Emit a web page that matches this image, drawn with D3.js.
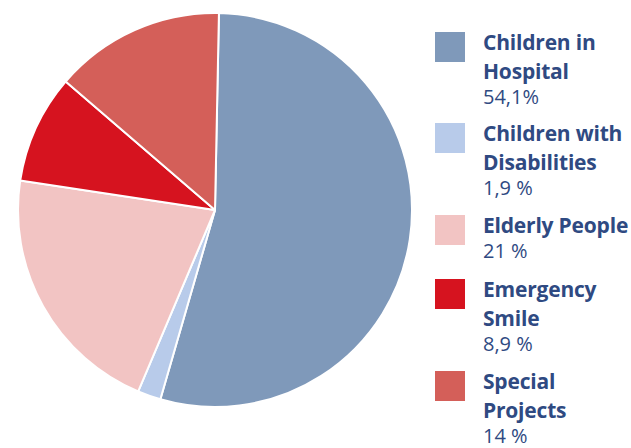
<!DOCTYPE html>
<html>
<head>
<meta charset="utf-8">
<script src="https://cdn.jsdelivr.net/npm/d3@7"></script>
<style>
  body { margin: 0; background: #fff; }
  svg { display: block; }
  .legend-title { font-family: "Open Sans", sans-serif; font-weight: 700; font-size: 21px; fill: #2f4a82; letter-spacing: -0.2px; }
  .legend-value { font-family: "Open Sans", sans-serif; font-weight: 400; font-size: 20px; fill: #2f4a82; }
</style>
</head>
<body>
<div id="chart"></div>
<script>
// data
const categories = ["Children in Hospital", "Children with Disabilities", "Elderly People", "Emergency Smile", "Special Projects"];
const labelLines = [["Children in", "Hospital"], ["Children with", "Disabilities"], ["Elderly People"], ["Emergency", "Smile"], ["Special", "Projects"]];
const values = [54.1, 1.9, 21, 8.9, 14];
const valueLabels = ["54,1%", "1,9 %", "21 %", "8,9 %", "14 %"];
const colors = ["#7f99ba", "#b8cbea", "#f2c4c3", "#d6131f", "#d45f59"];

const width = 631, height = 448;

const svg = d3.select("#chart").append("svg")
    .attr("width", width)
    .attr("height", height);

const data = categories.map((c, i) => ({name: c, value: values[i], lines: labelLines[i], label: valueLabels[i]}));

// pie
const radius = 197;
const pie = d3.pie().sort(null).value(d => d.value).startAngle(0.02).endAngle(0.02 + 2 * Math.PI);
const arc = d3.arc().innerRadius(0).outerRadius(radius);
const color = d3.scaleOrdinal().domain(categories).range(colors);

const g = svg.append("g")
    .attr("transform", `translate(215, 210)`);

g.selectAll("path")
    .data(pie(data))
    .enter().append("path")
    .attr("d", arc)
    .attr("fill", d => color(d.data.name))
    .attr("stroke", "#fff")
    .attr("stroke-width", 2)
    .attr("stroke-linejoin", "round");

// legend
const swatchTops = [32, 123, 215, 279, 371];
const legend = svg.append("g").attr("class", "legend");

const items = legend.selectAll("g.item")
    .data(data)
    .enter().append("g")
    .attr("class", "item")
    .attr("transform", (d, i) => `translate(435, ${swatchTops[i]})`);

items.append("rect")
    .attr("width", 30)
    .attr("height", 30)
    .attr("fill", d => color(d.name));

items.each(function (d) {
    const item = d3.select(this);
    d.lines.forEach((line, j) => {
        item.append("text")
            .attr("class", "legend-title")
            .attr("x", 48)
            .attr("y", 18 + j * 29)
            .text(line);
    });
    item.append("text")
        .attr("class", "legend-value")
        .attr("x", 48)
        .attr("y", 18 + (d.lines.length - 1) * 29 + 25)
        .text(d.label);
});
</script>
</body>
</html>
